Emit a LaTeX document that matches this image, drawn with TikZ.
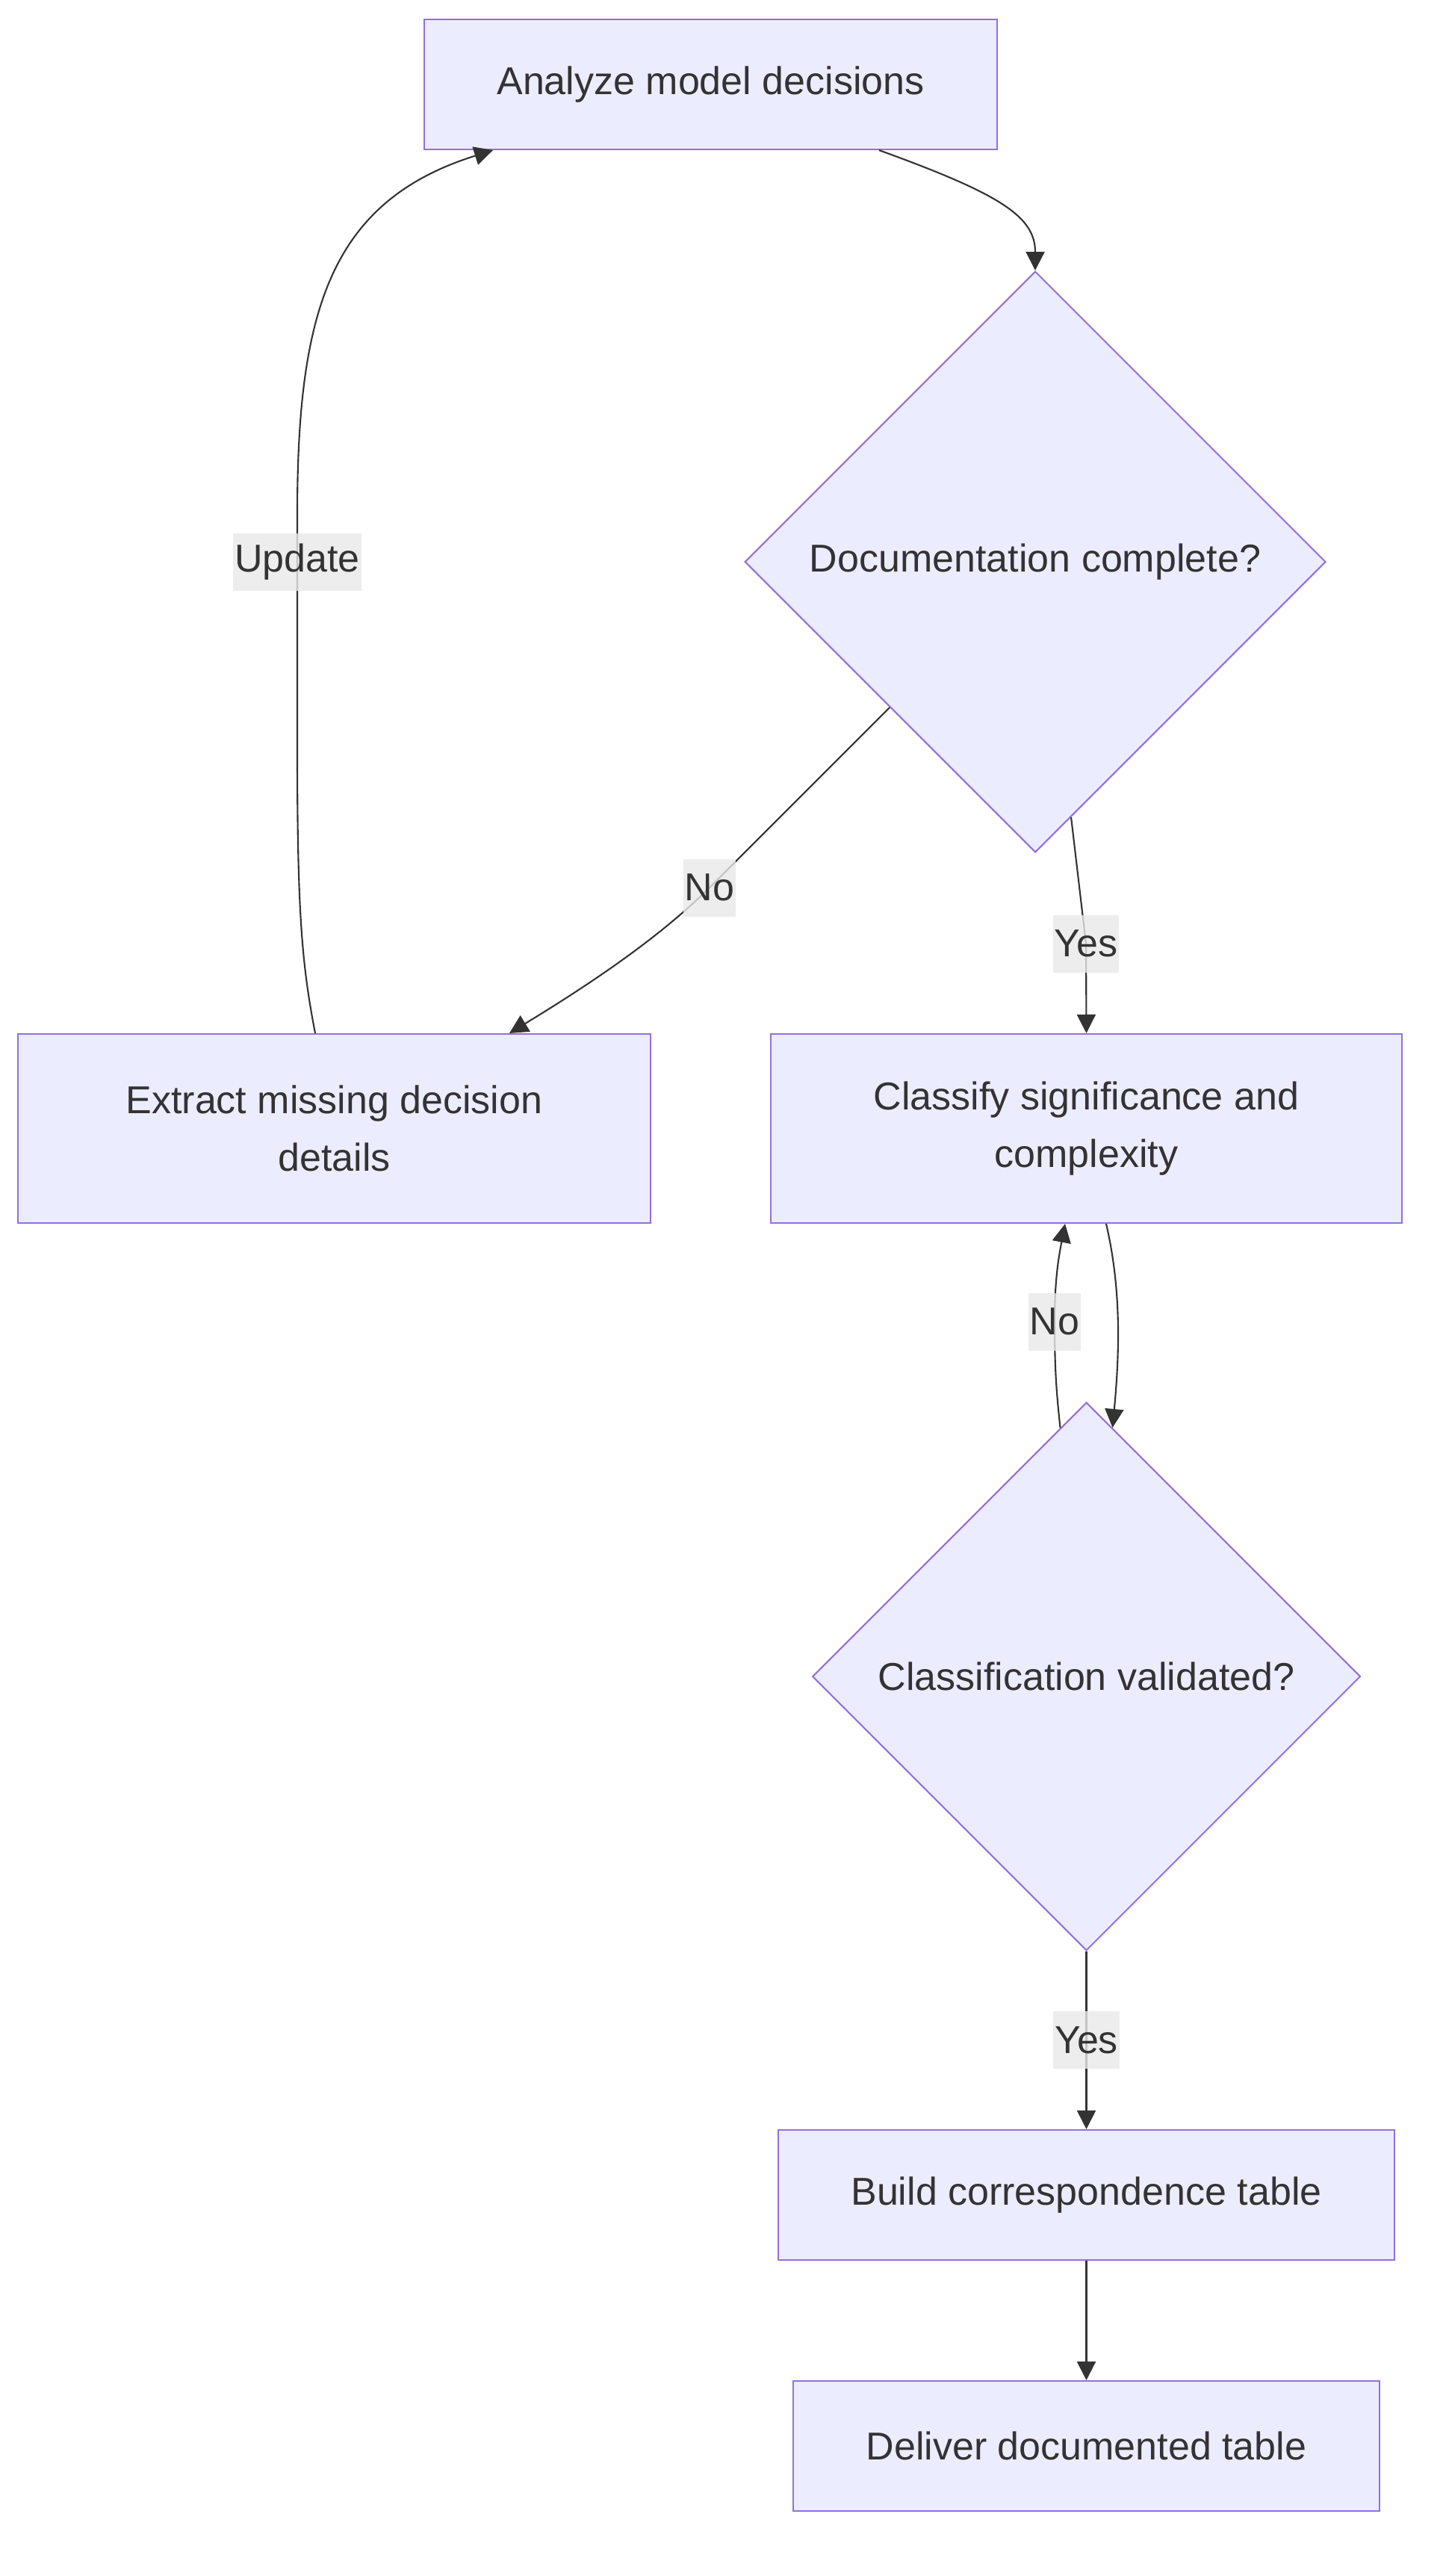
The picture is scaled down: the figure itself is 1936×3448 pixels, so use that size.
\documentclass[tikz,border=0pt]{standalone}
\usepackage{fontspec}
\setmainfont{Liberation Sans}
\usetikzlibrary{shapes.geometric, arrows.meta, positioning}
\definecolor{nodefill}{HTML}{ECECFF}
\definecolor{nodeline}{HTML}{9370DB}
\definecolor{edgeline}{HTML}{333333}
\definecolor{labelfill}{HTML}{E8E8E8}

\begin{document}
\begin{tikzpicture}[
    x=0.02cm, y=-0.02cm,
    font=\fontsize{29.6}{43.8}\selectfont,
    block/.style={rectangle, draw=nodeline, fill=nodefill, line width=1.2pt, text=edgeline, align=center, inner sep=0pt, minimum height=3.48cm},
    decision/.style={diamond, aspect=1, draw=nodeline, fill=nodefill, line width=1.2pt, text=edgeline, inner sep=0pt},
    elabel/.style={fill=labelfill, fill opacity=0.8, text opacity=1, text=edgeline, inner xsep=1pt, inner ysep=0pt, minimum height=1.54cm},
    arrow/.style={draw=edgeline, line width=1.2pt, -{Triangle[length=0.5cm, width=0.5cm]}}
]
    \useasboundingbox (0,0) rectangle (1936,3448);

    \node [block, minimum width=15.34cm] (analyze) at (951.5,113) {Analyze model decisions};
    \node [decision, minimum size=15.56cm] (doc) at (1386,752) {Documentation complete?};
    \node [block, minimum width=16.94cm, minimum height=5.06cm] (extract) at (447.5,1510.5) {Extract missing decision\\details};
    \node [block, minimum width=16.9cm, minimum height=5.06cm] (classify) at (1454.5,1510.5) {Classify significance and\\complexity};
    \node [decision, minimum size=14.68cm, below=4.76cm of classify] (valid) {Classification validated?};
    \node [block, minimum width=16.5cm, below=4.76cm of valid] (build) {Build correspondence table};
    \node [block, minimum width=15.7cm, below=3.2cm of build] (deliver) {Deliver documented table};

    \draw [arrow] ([xshift=4.51cm]analyze.south) .. controls (1340,260) and (1386,290) .. (doc.north);
    \draw [arrow] (doc.south west) -- (950,1188) node [elabel] (noLeft) {No} .. controls (880,1258) and (782,1322) .. ([xshift=4.69cm]extract.north);
    \draw [arrow] (doc.-82) -- (1454,1263) node [elabel] (yesRight) {Yes} -- (classify.north);
    \draw [arrow] ([xshift=-0.51cm]extract.north) .. controls (404,1290) and (398,1220) .. (398,1000) -- (398,752) node [elabel] (update) {Update} -- (398,690) .. controls (398,420) and (440,270) .. ([xshift=-5.83cm]analyze.south);
    \draw [arrow] ([xshift=0.53cm]classify.south) .. controls (1500,1720) and (1500,1800) .. (valid.84);
    \draw [arrow] (valid.96) .. controls (1414,1860) and (1412,1830) .. (1412,1769) node [elabel] (noLoop) {No} .. controls (1412,1710) and (1418,1680) .. ([xshift=-0.57cm]classify.south);
    \draw [arrow] (valid.south) -- node [elabel] (yesDown) {Yes} (build.north);
    \draw [arrow] (build.south) -- (deliver.north);
\end{tikzpicture}
\end{document}
